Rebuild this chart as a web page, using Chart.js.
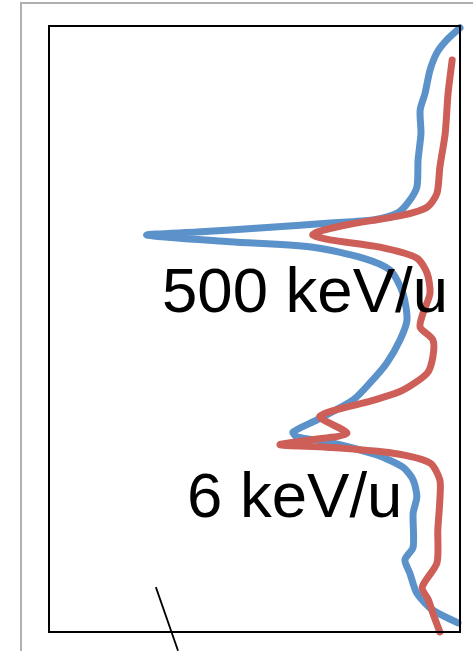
<!DOCTYPE html>
<html>
<head>
<meta charset="utf-8">
<script src="https://cdn.jsdelivr.net/npm/chart.js@4.4.1/dist/chart.umd.min.js"></script>
<style>
  html,body{margin:0;padding:0;background:#fff;}
  #wrap{width:473px;height:651px;position:relative;}
</style>
</head>
<body>
<div id="wrap"><canvas id="chart" width="473" height="651"></canvas></div>
<script>
// profiles: signal (0-100, left->right) vs depth (0-100, top->bottom)
const blueDepth = [0.3,2.3,4.4,7.3,11.1,13.9,17.7,22.1,26.6,29.2,30.9,32.0,32.5,33.3,34.0,34.5,35.6,36.5,38.3,40.3,44.1,48.5,51.8,55.6,58.9,61.7,65.0,67.0,67.8,68.6,70.8,72.8,74.9,77.7,80.4,86.0,88.1,90.3,93.6,96.4,98.5];
const blueSignal = [100,96.8,94.4,92.7,91.5,90.3,90.5,89.8,89.5,87.3,84.7,78.8,68.4,52.1,36.0,23.8,44.0,64.2,76.4,83.0,86.1,87.1,85.4,82.2,78.1,74.0,65.2,59.4,60.3,67.6,79.8,86.1,88.6,89.5,88.6,88.6,86.6,87.8,89.5,93.4,99.5];
const redDepth = [5.6,11.1,17.7,23.3,27.6,29.9,31.2,32.8,34.0,34.5,35.3,36.5,38.3,40.8,44.1,47.4,49.7,51.8,54.6,57.3,60.1,61.7,64.4,67.2,68.3,69.1,69.5,70.5,72.1,74.9,78.2,83.2,88.6,92.6,94.7,96.9,100];
const redSignal = [98.1,97.1,96.4,95.1,94.4,92.0,86.1,72.5,65.2,64.2,68.4,80.5,89.5,92.0,92.7,91.0,90.3,93.4,93.4,92.0,86.1,79.3,65.9,72.5,63.5,56.2,67.6,83.7,92.7,95.1,95.1,94.6,94.4,90.8,92.3,93.4,95.1];
const labels = [
  {text:'500 keV/u', x:27.5, y:47.2},
  {text:'6 keV/u', x:33.6, y:81.0}
];
const pointer = [{x:26.0,y:92.6},{x:31.4,y:103.1}];

function pts(xs, ys){ return xs.map((v,i)=>({x:v, y:ys[i]})); }

const decor = {
  id:'decor',
  beforeDraw(chart){
    const c = chart.ctx;
    c.save();
    c.strokeStyle = '#b0b0b0'; c.lineWidth = 2;
    c.beginPath(); c.moveTo(21,651); c.lineTo(21,3); c.lineTo(473,3); c.stroke();
    c.restore();
  },
  afterDatasetsDraw(chart){
    const c = chart.ctx, a = chart.chartArea, sx = chart.scales.x, sy = chart.scales.y;
    c.save();
    c.strokeStyle = '#000'; c.lineWidth = 2;
    c.strokeRect(a.left, a.top, a.right-a.left, a.bottom-a.top);
    c.lineWidth = 1.8;
    c.beginPath();
    c.moveTo(sx.getPixelForValue(pointer[0].x), sy.getPixelForValue(pointer[0].y));
    c.lineTo(sx.getPixelForValue(pointer[1].x), sy.getPixelForValue(pointer[1].y));
    c.stroke();
    c.fillStyle = '#000';
    c.font = '63.5px "Liberation Sans", Arial, sans-serif';
    c.textBaseline = 'alphabetic';
    labels.forEach(l=>c.fillText(l.text, sx.getPixelForValue(l.x), sy.getPixelForValue(l.y)));
    c.restore();
  }
};

new Chart(document.getElementById('chart'), {
  type:'scatter',
  data:{ datasets:[
    { data:pts(redSignal, redDepth), borderColor:'#cd5f58', borderWidth:7, showLine:true, pointRadius:0, tension:0.25, borderCapStyle:'round', borderJoinStyle:'round', clip:false },
    { data:pts(blueSignal, blueDepth), borderColor:'#5b92ca', borderWidth:7, showLine:true, pointRadius:0, tension:0.25, borderCapStyle:'round', borderJoinStyle:'round', clip:false }
  ]},
  options:{
    responsive:false, animation:false,
    layout:{ padding:{left:49, top:26, right:13, bottom:19} },
    plugins:{ legend:{display:false}, tooltip:{enabled:false} },
    scales:{
      x:{ type:'linear', min:0, max:100, display:false },
      y:{ type:'linear', min:0, max:100, reverse:true, display:false }
    }
  },
  plugins:[decor]
});
</script>
</body>
</html>
